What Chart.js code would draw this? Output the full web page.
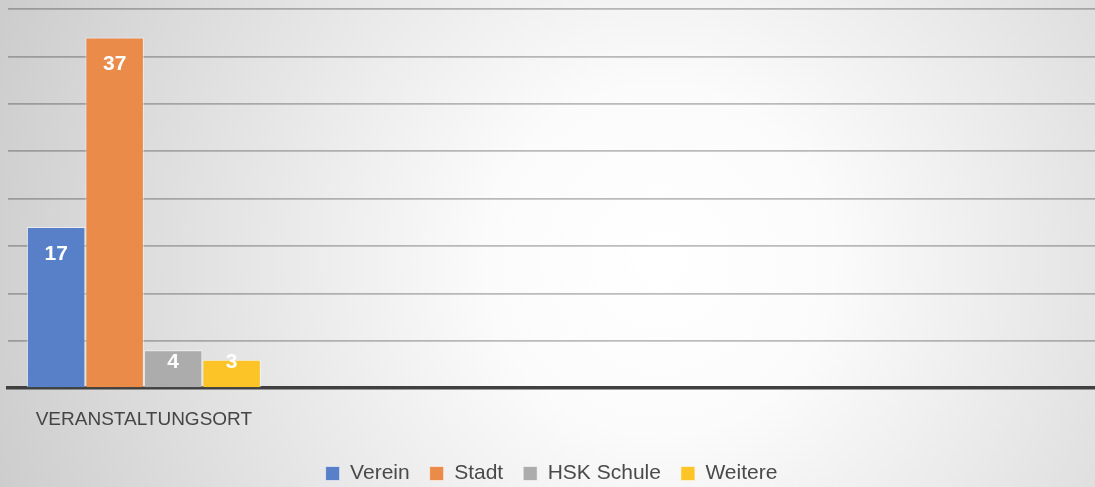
<!DOCTYPE html>
<html>
<head>
<meta charset="utf-8">
<script src="https://cdn.jsdelivr.net/npm/chart.js@4"></script>
<style>
  html, body { margin: 0; padding: 0; background: #d6d6d6; }
  #wrap { width: 1095px; height: 487px; }
</style>
</head>
<body>
<div id="wrap"><canvas id="chart" width="1095" height="487"></canvas></div>
<script>
// Daten
const categories = ["VERANSTALTUNGSORT", "", "", ""];
const seriesNames = ["Verein", "Stadt", "HSK Schule", "Weitere"];
const verein = [17];
const stadt = [37];
const hskSchule = [4];
const weitere = [3];
const seriesColors = ["rgb(88,128,200)", "rgb(235,139,74)", "rgb(172,172,172)", "rgb(252,196,38)"];

// Hintergrund mit radialem Verlauf
const bgPlugin = {
  id: "bg",
  beforeDraw(chart) {
    const c = chart.ctx;
    const g = c.createRadialGradient(660, 260, 0, 660, 260, 700);
    g.addColorStop(0, "#ffffff");
    g.addColorStop(0.25, "#fbfbfb");
    g.addColorStop(1, "#cdcdcd");
    c.save();
    c.fillStyle = g;
    c.fillRect(0, 0, chart.width, chart.height);
    c.restore();
  }
};

// Werte in die Balken schreiben
const labelPlugin = {
  id: "barLabels",
  afterDatasetsDraw(chart) {
    const c = chart.ctx;
    c.save();
    c.font = "bold 21px 'Liberation Sans', Arial, sans-serif";
    c.fillStyle = "#ffffff";
    c.textAlign = "center";
    c.textBaseline = "middle";
    chart.data.datasets.forEach((ds, i) => {
      const meta = chart.getDatasetMeta(i);
      meta.data.forEach((bar, j) => {
        const v = ds.data[j];
        if (v == null) return;
        const y = Math.min(bar.y + 27, bar.base - 25);
        c.fillText(String(v), bar.x, y);
      });
    });
    c.restore();
  }
};

const allSeries = [verein, stadt, hskSchule, weitere];

new Chart(document.getElementById("chart"), {
  type: "bar",
  data: {
    labels: categories,
    datasets: allSeries.map((d, i) => ({
      label: seriesNames[i],
      data: d,
      backgroundColor: seriesColors[i],
      borderColor: "rgba(255,255,255,0.55)",
      borderWidth: 1,
      categoryPercentage: 0.861,
      barPercentage: 1
    }))
  },
  options: {
    responsive: false,
    animation: false,
    layout: { padding: { left: 8, right: 0, top: 9, bottom: -7 } },
    scales: {
      x: {
        grid: { display: false },
        border: { color: "#404040", width: 3.5 },
        ticks: {
          color: "#454545",
          padding: 12,
          maxRotation: 0,
          autoSkip: false,
          font: { family: "'Liberation Sans', Arial, sans-serif", size: 19 }
        }
      },
      y: {
        min: 0,
        max: 40,
        border: { display: false },
        grid: {
          drawTicks: false,
          color: ctx => ctx.tick.value === 0 ? "rgba(0,0,0,0)" : "rgba(0,0,0,0.26)",
          lineWidth: 1.8
        },
        ticks: { display: false, stepSize: 5 }
      }
    },
    plugins: {
      legend: {
        position: "bottom",
        labels: {
          color: "#4a4a4a",
          boxWidth: 14,
          boxHeight: 14,
          padding: 20,
          font: { family: "'Liberation Sans', Arial, sans-serif", size: 21 }
        }
      },
      tooltip: { enabled: false }
    }
  },
  plugins: [bgPlugin, labelPlugin]
});
</script>
</body>
</html>
